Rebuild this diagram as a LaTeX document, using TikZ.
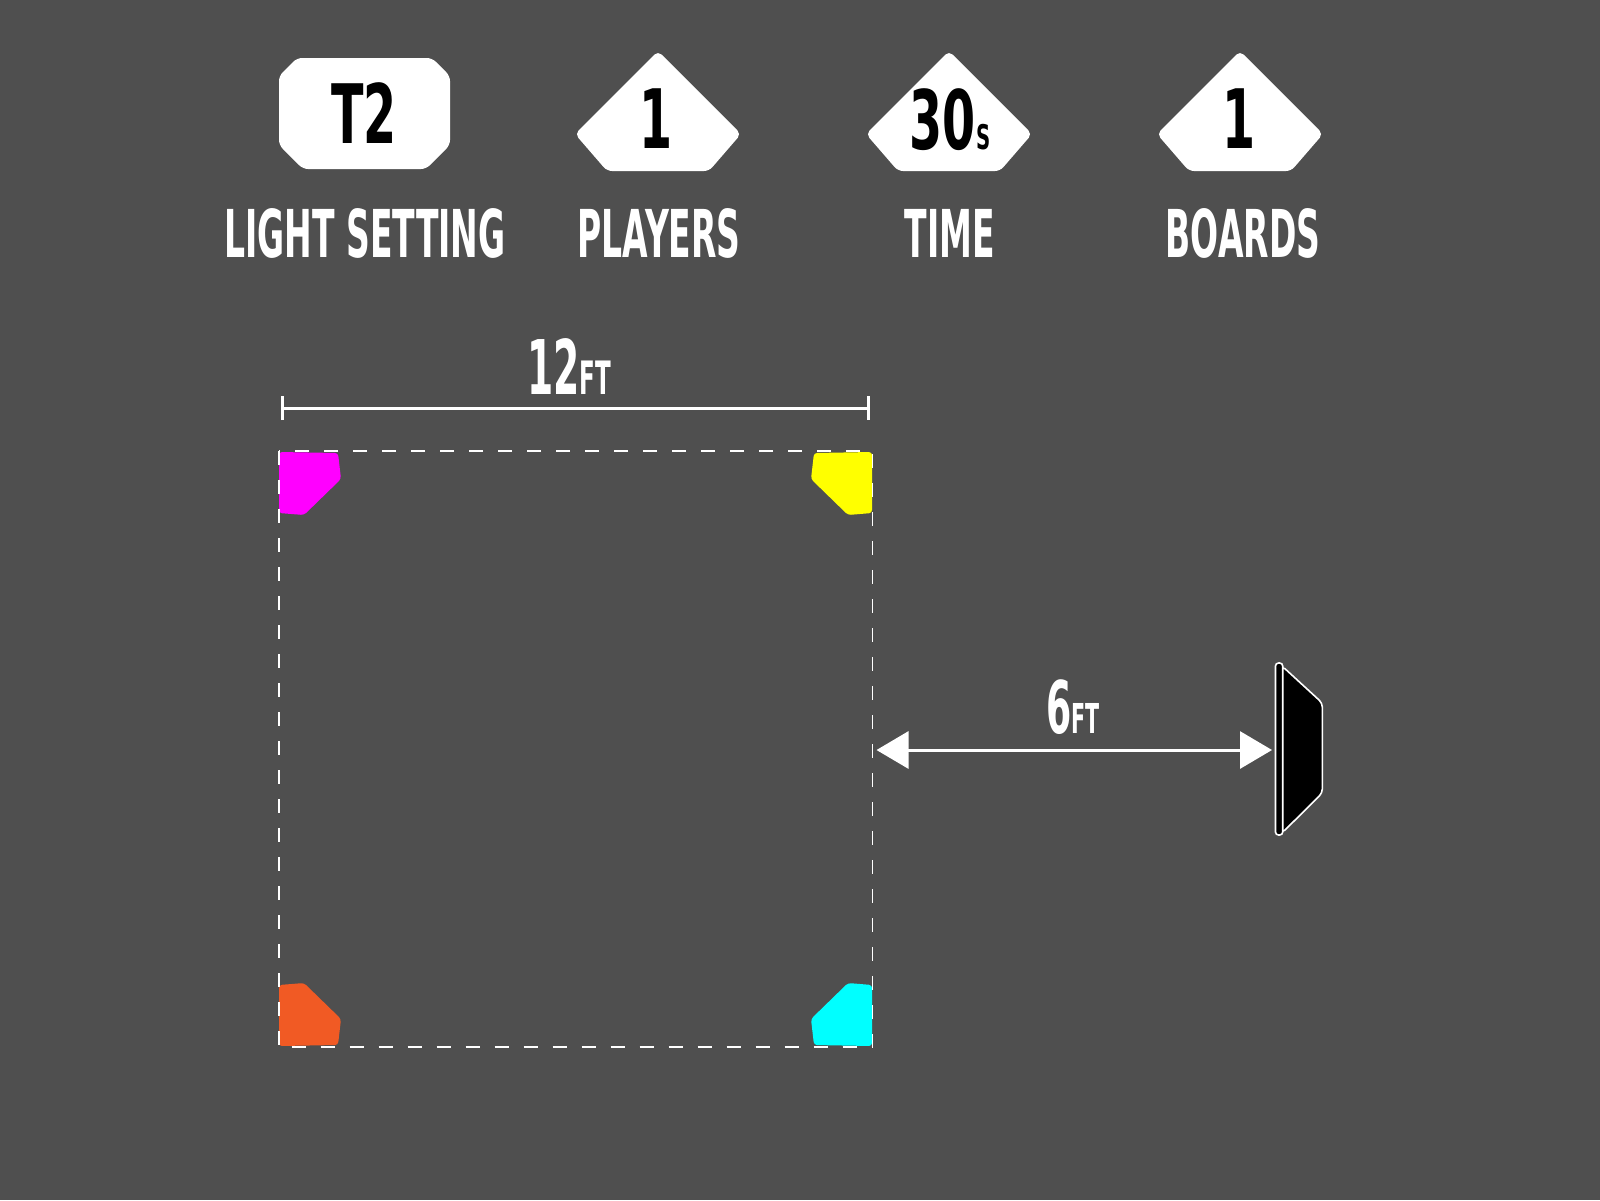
\documentclass[tikz,border=0pt]{standalone}
\usepackage{fontspec}
\usetikzlibrary{arrows.meta}
\newfontfamily\bebas{DejaVu Sans Bold}[FakeStretch=0.5]
\newfontfamily\bebasnum{DejaVu Sans Bold}[FakeStretch=0.58]
\definecolor{bg}{HTML}{4F4F4F}
\definecolor{conmagenta}{HTML}{FF00FF}
\definecolor{conyellow}{HTML}{FFFF00}
\definecolor{conorange}{HTML}{F15A24}
\definecolor{concyan}{HTML}{00FFFF}
\begin{document}
\begin{tikzpicture}[x=0.5pt,y=-0.5pt,
  badge/.style={fill=white,rounded corners=2.5pt},
  num/.style={inner sep=0pt,font=\bebasnum\fontsize{41}{43}\selectfont},
  lbl/.style={inner sep=0pt,anchor=base,white,font=\bebas\fontsize{33}{36}\selectfont},
  dist/.style={inner sep=0pt,anchor=base,white},
  dim/.style={white,line width=1.5pt},
  cone/.style={rounded corners=1.5pt},
  board/.style={fill=black,draw=white,line width=0.8pt,rounded corners=2pt}]
\fill[bg] (0,0) rectangle (1600,1200);

% top row badges
\fill[badge] (297,58)--(432,58)--(450,76)--(450,145)--(426,169)--(303,169)--(279,145)--(279,76)--cycle;
\fill[badge] (658,51)--(741,134)--(709,171)--(607,171)--(575,134)--cycle;
\fill[badge] (949,51)--(1032,134)--(1000,171)--(898,171)--(866,134)--cycle;
\fill[badge] (1240,51)--(1323,134)--(1291,171)--(1189,171)--(1157,134)--cycle;
\node[num] (light) at (364,113) {T2};
\node[num] (players) at (656,119) {1};
\node[num,anchor=base] (time) at (950,149) {30{\fontsize{17}{18}\selectfont S}};
\node[num] (boards) at (1239,119) {1};
\node[lbl] (lightlbl) at (365,257) {LIGHT SETTING};
\node[lbl] (playerslbl) at (659,257) {PLAYERS};
\node[lbl] (timelbl) at (950,257) {TIME};
\node[lbl] (boardslbl) at (1243,257) {BOARDS};

% 12 ft width
\coordinate (lenL) at (280.6,408);
\coordinate (lenR) at (870.4,408);
\draw[dim,{Bar[width=12pt]}-{Bar[width=12pt]}] (lenL)--(lenR);
\node[dist] (lenlbl) at (569,394) {\bebas\fontsize{37.7}{40}\selectfont 12{\fontsize{23}{25}\selectfont FT}};

% cones
\fill[conmagenta,cone] (279,452)--(338,453)--(341,479)--(304,515)--(279,513)--cycle;
\fill[conyellow,cone] (872,452)--(814,453)--(811,479)--(848,515)--(872,513)--cycle;
\fill[conorange,cone] (279,985)--(304,983)--(341,1019)--(338,1045)--(279,1046)--cycle;
\fill[concyan,cone] (872,985)--(848,983)--(811,1019)--(814,1045)--(872,1046)--cycle;
\draw[white,line width=0.9pt,dash pattern=on 7pt off 7.5pt] (278.6,451) rectangle (872.4,1047);

% 6 ft to board
\coordinate (sqE) at (876.5,750);
\coordinate (brdW) at (1272,750);
\draw[dim,{Triangle[length=16pt,width=18.5pt]}-{Triangle[length=16pt,width=18.5pt]}] (sqE)--(brdW);
\node[dist] (gaplbl) at (1073,733) {\bebas\fontsize{36.3}{40}\selectfont 6{\fontsize{20.6}{23}\selectfont FT}};
\draw[board] (1282,666)--(1322.3,703)--(1322.3,793)--(1282,833)--cycle;
\draw[board,rounded corners=1.5pt] (1275.5,663) rectangle (1282.7,835);

\end{tikzpicture}
\end{document}
